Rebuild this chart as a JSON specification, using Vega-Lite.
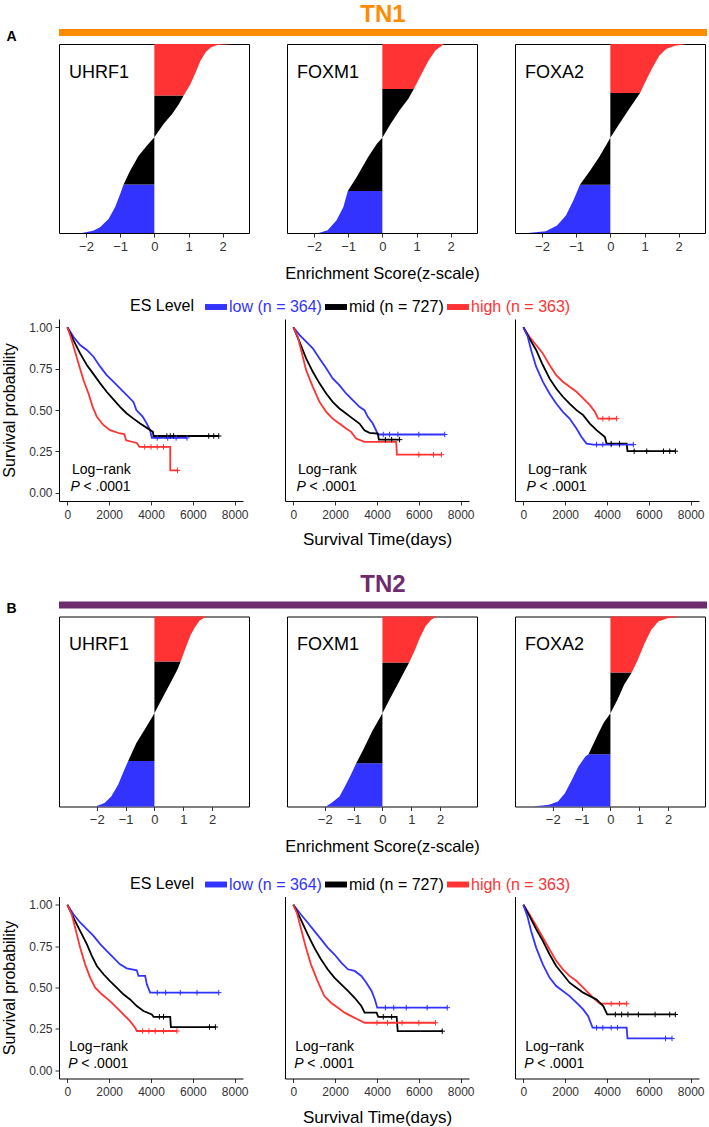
{
"$schema": "https://vega.github.io/schema/vega-lite/v6.json",
"autosize": {"type": "pad"},
"padding": {"top": 3, "left": 1, "right": 0, "bottom": 0},
"background": "white",
"config": {
  "font": "Liberation Sans",
  "view": {"stroke": null},
  "axis": {"grid": false, "domainColor": "#000000", "tickColor": "#333333", "labelColor": "#333333", "labelFont": "Liberation Sans", "labelFontSize": 13, "titleFont": "Liberation Sans", "titleFontWeight": "normal", "titleColor": "#000000", "tickSize": 4, "labelPadding": 3},
  "text": {"font": "Liberation Sans", "color": "#000000"},
  "title": {"font": "Liberation Sans"}
},
"datasets": {
"km": [
{"p":"A1","l":"low","t":0,"s":1},{"p":"A1","l":"low","t":290,"s":0.943},{"p":"A1","l":"low","t":610,"s":0.893},{"p":"A1","l":"low","t":930,"s":0.863},{"p":"A1","l":"low","t":1250,"s":0.822},{"p":"A1","l":"low","t":1570,"s":0.762},{"p":"A1","l":"low","t":1880,"s":0.711},{"p":"A1","l":"low","t":2200,"s":0.671},{"p":"A1","l":"low","t":2520,"s":0.63},{"p":"A1","l":"low","t":2840,"s":0.59},{"p":"A1","l":"low","t":3160,"s":0.549},{"p":"A1","l":"low","t":3300,"s":0.5},{"p":"A1","l":"low","t":3600,"s":0.46},{"p":"A1","l":"low","t":3800,"s":0.418},{"p":"A1","l":"low","t":3950,"s":0.38},{"p":"A1","l":"low","t":4040,"s":0.331},{"p":"A1","l":"low","t":5720,"s":0.331},
{"p":"A1","l":"mid","t":0,"s":1},{"p":"A1","l":"mid","t":290,"s":0.923},{"p":"A1","l":"mid","t":610,"s":0.842},{"p":"A1","l":"mid","t":930,"s":0.772},{"p":"A1","l":"mid","t":1250,"s":0.717},{"p":"A1","l":"mid","t":1570,"s":0.661},{"p":"A1","l":"mid","t":1880,"s":0.61},{"p":"A1","l":"mid","t":2200,"s":0.564},{"p":"A1","l":"mid","t":2520,"s":0.519},{"p":"A1","l":"mid","t":2840,"s":0.479},{"p":"A1","l":"mid","t":3160,"s":0.448},{"p":"A1","l":"mid","t":3480,"s":0.418},{"p":"A1","l":"mid","t":3800,"s":0.392},{"p":"A1","l":"mid","t":4090,"s":0.368},{"p":"A1","l":"mid","t":4120,"s":0.343},{"p":"A1","l":"mid","t":7240,"s":0.343},
{"p":"A1","l":"high","t":0,"s":1},{"p":"A1","l":"high","t":160,"s":0.943},{"p":"A1","l":"high","t":320,"s":0.873},{"p":"A1","l":"high","t":530,"s":0.782},{"p":"A1","l":"high","t":770,"s":0.681},{"p":"A1","l":"high","t":1010,"s":0.6},{"p":"A1","l":"high","t":1210,"s":0.519},{"p":"A1","l":"high","t":1410,"s":0.459},{"p":"A1","l":"high","t":1730,"s":0.408},{"p":"A1","l":"high","t":2040,"s":0.378},{"p":"A1","l":"high","t":2520,"s":0.358},{"p":"A1","l":"high","t":2720,"s":0.354},{"p":"A1","l":"high","t":2810,"s":0.317},{"p":"A1","l":"high","t":3320,"s":0.301},{"p":"A1","l":"high","t":3450,"s":0.277},{"p":"A1","l":"high","t":4920,"s":0.277},{"p":"A1","l":"high","t":4920,"s":0.135},{"p":"A1","l":"high","t":5270,"s":0.135},
{"p":"A2","l":"low","t":0,"s":1},{"p":"A2","l":"low","t":290,"s":0.954},{"p":"A2","l":"low","t":610,"s":0.913},{"p":"A2","l":"low","t":930,"s":0.873},{"p":"A2","l":"low","t":1250,"s":0.812},{"p":"A2","l":"low","t":1570,"s":0.752},{"p":"A2","l":"low","t":1880,"s":0.691},{"p":"A2","l":"low","t":2200,"s":0.65},{"p":"A2","l":"low","t":2520,"s":0.6},{"p":"A2","l":"low","t":2840,"s":0.56},{"p":"A2","l":"low","t":3160,"s":0.519},{"p":"A2","l":"low","t":3400,"s":0.499},{"p":"A2","l":"low","t":3560,"s":0.459},{"p":"A2","l":"low","t":3800,"s":0.418},{"p":"A2","l":"low","t":3990,"s":0.368},{"p":"A2","l":"low","t":4040,"s":0.352},{"p":"A2","l":"low","t":7240,"s":0.352},
{"p":"A2","l":"mid","t":0,"s":1},{"p":"A2","l":"mid","t":290,"s":0.913},{"p":"A2","l":"mid","t":610,"s":0.812},{"p":"A2","l":"mid","t":930,"s":0.731},{"p":"A2","l":"mid","t":1250,"s":0.661},{"p":"A2","l":"mid","t":1570,"s":0.6},{"p":"A2","l":"mid","t":1880,"s":0.549},{"p":"A2","l":"mid","t":2200,"s":0.509},{"p":"A2","l":"mid","t":2520,"s":0.479},{"p":"A2","l":"mid","t":2840,"s":0.448},{"p":"A2","l":"mid","t":3160,"s":0.418},{"p":"A2","l":"mid","t":3400,"s":0.378},{"p":"A2","l":"mid","t":3640,"s":0.362},{"p":"A2","l":"mid","t":4040,"s":0.358},{"p":"A2","l":"mid","t":4090,"s":0.321},{"p":"A2","l":"mid","t":5080,"s":0.321},
{"p":"A2","l":"high","t":0,"s":1},{"p":"A2","l":"high","t":210,"s":0.943},{"p":"A2","l":"high","t":370,"s":0.863},{"p":"A2","l":"high","t":610,"s":0.741},{"p":"A2","l":"high","t":930,"s":0.64},{"p":"A2","l":"high","t":1250,"s":0.549},{"p":"A2","l":"high","t":1570,"s":0.489},{"p":"A2","l":"high","t":1880,"s":0.448},{"p":"A2","l":"high","t":2200,"s":0.418},{"p":"A2","l":"high","t":2520,"s":0.388},{"p":"A2","l":"high","t":2760,"s":0.368},{"p":"A2","l":"high","t":3000,"s":0.327},{"p":"A2","l":"high","t":3400,"s":0.307},{"p":"A2","l":"high","t":4920,"s":0.307},{"p":"A2","l":"high","t":4950,"s":0.23},{"p":"A2","l":"high","t":7080,"s":0.23},
{"p":"A3","l":"high","t":0,"s":1},{"p":"A3","l":"high","t":290,"s":0.943},{"p":"A3","l":"high","t":610,"s":0.893},{"p":"A3","l":"high","t":930,"s":0.842},{"p":"A3","l":"high","t":1250,"s":0.772},{"p":"A3","l":"high","t":1570,"s":0.711},{"p":"A3","l":"high","t":1890,"s":0.671},{"p":"A3","l":"high","t":2210,"s":0.64},{"p":"A3","l":"high","t":2540,"s":0.61},{"p":"A3","l":"high","t":2860,"s":0.57},{"p":"A3","l":"high","t":3180,"s":0.529},{"p":"A3","l":"high","t":3420,"s":0.489},{"p":"A3","l":"high","t":3580,"s":0.448},{"p":"A3","l":"high","t":4460,"s":0.448},
{"p":"A3","l":"mid","t":0,"s":1},{"p":"A3","l":"mid","t":290,"s":0.933},{"p":"A3","l":"mid","t":610,"s":0.863},{"p":"A3","l":"mid","t":930,"s":0.772},{"p":"A3","l":"mid","t":1250,"s":0.691},{"p":"A3","l":"mid","t":1570,"s":0.63},{"p":"A3","l":"mid","t":1890,"s":0.58},{"p":"A3","l":"mid","t":2210,"s":0.539},{"p":"A3","l":"mid","t":2540,"s":0.499},{"p":"A3","l":"mid","t":2860,"s":0.469},{"p":"A3","l":"mid","t":3180,"s":0.418},{"p":"A3","l":"mid","t":3500,"s":0.378},{"p":"A3","l":"mid","t":3900,"s":0.337},{"p":"A3","l":"mid","t":3980,"s":0.297},{"p":"A3","l":"mid","t":4940,"s":0.297},{"p":"A3","l":"mid","t":4980,"s":0.251},{"p":"A3","l":"mid","t":7270,"s":0.251},
{"p":"A3","l":"low","t":0,"s":1},{"p":"A3","l":"low","t":210,"s":0.943},{"p":"A3","l":"low","t":370,"s":0.863},{"p":"A3","l":"low","t":610,"s":0.762},{"p":"A3","l":"low","t":930,"s":0.671},{"p":"A3","l":"low","t":1250,"s":0.6},{"p":"A3","l":"low","t":1570,"s":0.539},{"p":"A3","l":"low","t":1890,"s":0.489},{"p":"A3","l":"low","t":2210,"s":0.448},{"p":"A3","l":"low","t":2540,"s":0.388},{"p":"A3","l":"low","t":2780,"s":0.337},{"p":"A3","l":"low","t":3020,"s":0.297},{"p":"A3","l":"low","t":3340,"s":0.291},{"p":"A3","l":"low","t":5260,"s":0.291},
{"p":"B1","l":"low","t":0,"s":1},{"p":"B1","l":"low","t":290,"s":0.943},{"p":"B1","l":"low","t":610,"s":0.893},{"p":"B1","l":"low","t":930,"s":0.853},{"p":"B1","l":"low","t":1250,"s":0.812},{"p":"B1","l":"low","t":1570,"s":0.762},{"p":"B1","l":"low","t":1880,"s":0.721},{"p":"B1","l":"low","t":2200,"s":0.681},{"p":"B1","l":"low","t":2520,"s":0.64},{"p":"B1","l":"low","t":2840,"s":0.616},{"p":"B1","l":"low","t":3320,"s":0.604},{"p":"B1","l":"low","t":3400,"s":0.57},{"p":"B1","l":"low","t":3720,"s":0.57},{"p":"B1","l":"low","t":3800,"s":0.519},{"p":"B1","l":"low","t":3960,"s":0.469},{"p":"B1","l":"low","t":7240,"s":0.469},
{"p":"B1","l":"mid","t":0,"s":1},{"p":"B1","l":"mid","t":290,"s":0.923},{"p":"B1","l":"mid","t":610,"s":0.842},{"p":"B1","l":"mid","t":930,"s":0.762},{"p":"B1","l":"mid","t":1170,"s":0.691},{"p":"B1","l":"mid","t":1410,"s":0.63},{"p":"B1","l":"mid","t":1730,"s":0.58},{"p":"B1","l":"mid","t":2040,"s":0.539},{"p":"B1","l":"mid","t":2360,"s":0.499},{"p":"B1","l":"mid","t":2680,"s":0.459},{"p":"B1","l":"mid","t":3000,"s":0.428},{"p":"B1","l":"mid","t":3320,"s":0.388},{"p":"B1","l":"mid","t":3640,"s":0.358},{"p":"B1","l":"mid","t":4040,"s":0.337},{"p":"B1","l":"mid","t":4120,"s":0.323},{"p":"B1","l":"mid","t":4920,"s":0.323},{"p":"B1","l":"mid","t":4950,"s":0.261},{"p":"B1","l":"mid","t":7080,"s":0.261},
{"p":"B1","l":"high","t":0,"s":1},{"p":"B1","l":"high","t":210,"s":0.943},{"p":"B1","l":"high","t":370,"s":0.863},{"p":"B1","l":"high","t":610,"s":0.741},{"p":"B1","l":"high","t":850,"s":0.64},{"p":"B1","l":"high","t":1090,"s":0.56},{"p":"B1","l":"high","t":1330,"s":0.499},{"p":"B1","l":"high","t":1650,"s":0.459},{"p":"B1","l":"high","t":2040,"s":0.418},{"p":"B1","l":"high","t":2360,"s":0.378},{"p":"B1","l":"high","t":2680,"s":0.337},{"p":"B1","l":"high","t":3000,"s":0.297},{"p":"B1","l":"high","t":3240,"s":0.257},{"p":"B1","l":"high","t":3320,"s":0.237},{"p":"B1","l":"high","t":5240,"s":0.237},
{"p":"B2","l":"low","t":0,"s":1},{"p":"B2","l":"low","t":350,"s":0.943},{"p":"B2","l":"low","t":680,"s":0.893},{"p":"B2","l":"low","t":1000,"s":0.842},{"p":"B2","l":"low","t":1320,"s":0.792},{"p":"B2","l":"low","t":1640,"s":0.741},{"p":"B2","l":"low","t":1960,"s":0.701},{"p":"B2","l":"low","t":2290,"s":0.65},{"p":"B2","l":"low","t":2610,"s":0.61},{"p":"B2","l":"low","t":2930,"s":0.6},{"p":"B2","l":"low","t":3250,"s":0.57},{"p":"B2","l":"low","t":3490,"s":0.529},{"p":"B2","l":"low","t":3740,"s":0.479},{"p":"B2","l":"low","t":3900,"s":0.428},{"p":"B2","l":"low","t":4010,"s":0.378},{"p":"B2","l":"low","t":7360,"s":0.378},
{"p":"B2","l":"mid","t":0,"s":1},{"p":"B2","l":"mid","t":350,"s":0.913},{"p":"B2","l":"mid","t":680,"s":0.822},{"p":"B2","l":"mid","t":1000,"s":0.741},{"p":"B2","l":"mid","t":1320,"s":0.671},{"p":"B2","l":"mid","t":1640,"s":0.61},{"p":"B2","l":"mid","t":1960,"s":0.56},{"p":"B2","l":"mid","t":2290,"s":0.519},{"p":"B2","l":"mid","t":2610,"s":0.479},{"p":"B2","l":"mid","t":2930,"s":0.438},{"p":"B2","l":"mid","t":3250,"s":0.388},{"p":"B2","l":"mid","t":3410,"s":0.348},{"p":"B2","l":"mid","t":3980,"s":0.348},{"p":"B2","l":"mid","t":4060,"s":0.323},{"p":"B2","l":"mid","t":4940,"s":0.323},{"p":"B2","l":"mid","t":4990,"s":0.236},{"p":"B2","l":"mid","t":7120,"s":0.236},
{"p":"B2","l":"high","t":0,"s":1},{"p":"B2","l":"high","t":190,"s":0.943},{"p":"B2","l":"high","t":350,"s":0.863},{"p":"B2","l":"high","t":600,"s":0.741},{"p":"B2","l":"high","t":840,"s":0.64},{"p":"B2","l":"high","t":1160,"s":0.539},{"p":"B2","l":"high","t":1480,"s":0.448},{"p":"B2","l":"high","t":1800,"s":0.408},{"p":"B2","l":"high","t":2130,"s":0.378},{"p":"B2","l":"high","t":2450,"s":0.348},{"p":"B2","l":"high","t":2770,"s":0.327},{"p":"B2","l":"high","t":3090,"s":0.307},{"p":"B2","l":"high","t":3410,"s":0.287},{"p":"B2","l":"high","t":6800,"s":0.287},
{"p":"B3","l":"high","t":0,"s":1},{"p":"B3","l":"high","t":290,"s":0.943},{"p":"B3","l":"high","t":610,"s":0.873},{"p":"B3","l":"high","t":930,"s":0.802},{"p":"B3","l":"high","t":1250,"s":0.731},{"p":"B3","l":"high","t":1570,"s":0.661},{"p":"B3","l":"high","t":1890,"s":0.61},{"p":"B3","l":"high","t":2210,"s":0.57},{"p":"B3","l":"high","t":2540,"s":0.539},{"p":"B3","l":"high","t":2860,"s":0.499},{"p":"B3","l":"high","t":3180,"s":0.459},{"p":"B3","l":"high","t":3420,"s":0.428},{"p":"B3","l":"high","t":3660,"s":0.402},{"p":"B3","l":"high","t":4940,"s":0.402},
{"p":"B3","l":"mid","t":0,"s":1},{"p":"B3","l":"mid","t":290,"s":0.933},{"p":"B3","l":"mid","t":610,"s":0.853},{"p":"B3","l":"mid","t":930,"s":0.782},{"p":"B3","l":"mid","t":1250,"s":0.701},{"p":"B3","l":"mid","t":1570,"s":0.63},{"p":"B3","l":"mid","t":1890,"s":0.58},{"p":"B3","l":"mid","t":2210,"s":0.529},{"p":"B3","l":"mid","t":2540,"s":0.499},{"p":"B3","l":"mid","t":2860,"s":0.469},{"p":"B3","l":"mid","t":3180,"s":0.448},{"p":"B3","l":"mid","t":3500,"s":0.428},{"p":"B3","l":"mid","t":3820,"s":0.388},{"p":"B3","l":"mid","t":4010,"s":0.337},{"p":"B3","l":"mid","t":7270,"s":0.337},
{"p":"B3","l":"low","t":0,"s":1},{"p":"B3","l":"low","t":210,"s":0.923},{"p":"B3","l":"low","t":370,"s":0.842},{"p":"B3","l":"low","t":610,"s":0.741},{"p":"B3","l":"low","t":930,"s":0.64},{"p":"B3","l":"low","t":1250,"s":0.56},{"p":"B3","l":"low","t":1570,"s":0.509},{"p":"B3","l":"low","t":1890,"s":0.479},{"p":"B3","l":"low","t":2210,"s":0.448},{"p":"B3","l":"low","t":2540,"s":0.408},{"p":"B3","l":"low","t":2860,"s":0.368},{"p":"B3","l":"low","t":3100,"s":0.327},{"p":"B3","l":"low","t":3310,"s":0.257},{"p":"B3","l":"low","t":4940,"s":0.257},{"p":"B3","l":"low","t":4980,"s":0.192},{"p":"B3","l":"low","t":7110,"s":0.192}
],
"cz": [
{"p":"A1","l":"mid","t":4760,"s":0.343},{"p":"A1","l":"mid","t":4920,"s":0.343},{"p":"A1","l":"mid","t":5080,"s":0.343},{"p":"A1","l":"mid","t":6760,"s":0.343},{"p":"A1","l":"mid","t":7000,"s":0.343},{"p":"A1","l":"mid","t":7240,"s":0.343},
{"p":"A1","l":"low","t":4300,"s":0.331},{"p":"A1","l":"low","t":4800,"s":0.331},{"p":"A1","l":"low","t":5200,"s":0.331},{"p":"A1","l":"low","t":5720,"s":0.331},
{"p":"A1","l":"high","t":3700,"s":0.277},{"p":"A1","l":"high","t":4000,"s":0.277},{"p":"A1","l":"high","t":4300,"s":0.277},{"p":"A1","l":"high","t":4600,"s":0.277},{"p":"A1","l":"high","t":5270,"s":0.135},
{"p":"A2","l":"low","t":4300,"s":0.352},{"p":"A2","l":"low","t":4600,"s":0.352},{"p":"A2","l":"low","t":5000,"s":0.352},{"p":"A2","l":"low","t":6000,"s":0.352},{"p":"A2","l":"low","t":7240,"s":0.352},
{"p":"A2","l":"mid","t":4400,"s":0.321},{"p":"A2","l":"mid","t":4700,"s":0.321},{"p":"A2","l":"mid","t":5080,"s":0.321},
{"p":"A2","l":"high","t":6000,"s":0.23},{"p":"A2","l":"high","t":6700,"s":0.23},{"p":"A2","l":"high","t":7080,"s":0.23},
{"p":"A3","l":"high","t":3800,"s":0.448},{"p":"A3","l":"high","t":4100,"s":0.448},{"p":"A3","l":"high","t":4460,"s":0.448},
{"p":"A3","l":"low","t":3500,"s":0.291},{"p":"A3","l":"low","t":3800,"s":0.291},{"p":"A3","l":"low","t":4200,"s":0.291},{"p":"A3","l":"low","t":4600,"s":0.291},{"p":"A3","l":"low","t":5260,"s":0.291},
{"p":"A3","l":"mid","t":4200,"s":0.297},{"p":"A3","l":"mid","t":4600,"s":0.297},{"p":"A3","l":"mid","t":5300,"s":0.251},{"p":"A3","l":"mid","t":5900,"s":0.251},{"p":"A3","l":"mid","t":6700,"s":0.251},{"p":"A3","l":"mid","t":7000,"s":0.251},{"p":"A3","l":"mid","t":7270,"s":0.251},
{"p":"B1","l":"low","t":4300,"s":0.469},{"p":"B1","l":"low","t":4700,"s":0.469},{"p":"B1","l":"low","t":5400,"s":0.469},{"p":"B1","l":"low","t":6200,"s":0.469},{"p":"B1","l":"low","t":7240,"s":0.469},
{"p":"B1","l":"mid","t":4400,"s":0.323},{"p":"B1","l":"mid","t":4600,"s":0.323},{"p":"B1","l":"mid","t":6800,"s":0.261},{"p":"B1","l":"mid","t":7080,"s":0.261},
{"p":"B1","l":"high","t":3600,"s":0.237},{"p":"B1","l":"high","t":3900,"s":0.237},{"p":"B1","l":"high","t":4200,"s":0.237},{"p":"B1","l":"high","t":4600,"s":0.237},{"p":"B1","l":"high","t":5240,"s":0.237},
{"p":"B2","l":"low","t":4400,"s":0.378},{"p":"B2","l":"low","t":4800,"s":0.378},{"p":"B2","l":"low","t":5400,"s":0.378},{"p":"B2","l":"low","t":6400,"s":0.378},{"p":"B2","l":"low","t":7360,"s":0.378},
{"p":"B2","l":"mid","t":4300,"s":0.323},{"p":"B2","l":"mid","t":4700,"s":0.323},{"p":"B2","l":"mid","t":7120,"s":0.236},
{"p":"B2","l":"high","t":4000,"s":0.287},{"p":"B2","l":"high","t":4500,"s":0.287},{"p":"B2","l":"high","t":5200,"s":0.287},{"p":"B2","l":"high","t":6000,"s":0.287},{"p":"B2","l":"high","t":6800,"s":0.287},
{"p":"B3","l":"high","t":4200,"s":0.402},{"p":"B3","l":"high","t":4600,"s":0.402},{"p":"B3","l":"high","t":4940,"s":0.402},
{"p":"B3","l":"mid","t":4400,"s":0.337},{"p":"B3","l":"mid","t":4700,"s":0.337},{"p":"B3","l":"mid","t":5000,"s":0.337},{"p":"B3","l":"mid","t":5500,"s":0.337},{"p":"B3","l":"mid","t":6300,"s":0.337},{"p":"B3","l":"mid","t":7000,"s":0.337},{"p":"B3","l":"mid","t":7270,"s":0.337},
{"p":"B3","l":"low","t":3500,"s":0.257},{"p":"B3","l":"low","t":3800,"s":0.257},{"p":"B3","l":"low","t":4200,"s":0.257},{"p":"B3","l":"low","t":4500,"s":0.257},{"p":"B3","l":"low","t":6800,"s":0.192},{"p":"B3","l":"low","t":7110,"s":0.192}
],
"es": [
{"p":"A1","l":"low","f":0,"z":-2.12},{"p":"A1","l":"low","f":0.012,"z":-1.79},{"p":"A1","l":"low","f":0.03,"z":-1.59},{"p":"A1","l":"low","f":0.074,"z":-1.34},{"p":"A1","l":"low","f":0.136,"z":-1.15},{"p":"A1","l":"low","f":0.206,"z":-1.0},{"p":"A1","l":"low","f":0.256,"z":-0.9},
{"p":"A1","l":"mid","f":0.256,"z":-0.9},{"p":"A1","l":"mid","f":0.33,"z":-0.71},{"p":"A1","l":"mid","f":0.409,"z":-0.46},{"p":"A1","l":"mid","f":0.462,"z":-0.22},{"p":"A1","l":"mid","f":0.506,"z":0},{"p":"A1","l":"mid","f":0.577,"z":0.27},{"p":"A1","l":"mid","f":0.63,"z":0.52},{"p":"A1","l":"mid","f":0.683,"z":0.72},{"p":"A1","l":"mid","f":0.727,"z":0.86},
{"p":"A1","l":"high","f":0.727,"z":0.86},{"p":"A1","l":"high","f":0.788,"z":1.06},{"p":"A1","l":"high","f":0.85,"z":1.21},{"p":"A1","l":"high","f":0.912,"z":1.35},{"p":"A1","l":"high","f":0.956,"z":1.5},{"p":"A1","l":"high","f":0.982,"z":1.65},{"p":"A1","l":"high","f":0.995,"z":1.84},{"p":"A1","l":"high","f":1,"z":2.28},
{"p":"A2","l":"low","f":0,"z":-1.86},{"p":"A2","l":"low","f":0.014,"z":-1.6},{"p":"A2","l":"low","f":0.067,"z":-1.34},{"p":"A2","l":"low","f":0.137,"z":-1.14},{"p":"A2","l":"low","f":0.222,"z":-1.01},
{"p":"A2","l":"mid","f":0.222,"z":-1.01},{"p":"A2","l":"mid","f":0.296,"z":-0.75},{"p":"A2","l":"mid","f":0.401,"z":-0.42},{"p":"A2","l":"mid","f":0.472,"z":-0.16},{"p":"A2","l":"mid","f":0.504,"z":0},{"p":"A2","l":"mid","f":0.577,"z":0.24},{"p":"A2","l":"mid","f":0.648,"z":0.5},{"p":"A2","l":"mid","f":0.71,"z":0.76},{"p":"A2","l":"mid","f":0.762,"z":0.92},
{"p":"A2","l":"high","f":0.762,"z":0.92},{"p":"A2","l":"high","f":0.842,"z":1.15},{"p":"A2","l":"high","f":0.912,"z":1.35},{"p":"A2","l":"high","f":0.965,"z":1.55},{"p":"A2","l":"high","f":0.991,"z":1.74},{"p":"A2","l":"high","f":1,"z":1.81},
{"p":"A3","l":"low","f":0,"z":-2.41},{"p":"A3","l":"low","f":0.009,"z":-1.89},{"p":"A3","l":"low","f":0.04,"z":-1.56},{"p":"A3","l":"low","f":0.093,"z":-1.3},{"p":"A3","l":"low","f":0.173,"z":-1.08},{"p":"A3","l":"low","f":0.255,"z":-0.89},
{"p":"A3","l":"mid","f":0.255,"z":-0.89},{"p":"A3","l":"mid","f":0.331,"z":-0.59},{"p":"A3","l":"mid","f":0.401,"z":-0.33},{"p":"A3","l":"mid","f":0.481,"z":-0.07},{"p":"A3","l":"mid","f":0.504,"z":0},{"p":"A3","l":"mid","f":0.577,"z":0.26},{"p":"A3","l":"mid","f":0.648,"z":0.52},{"p":"A3","l":"mid","f":0.701,"z":0.72},{"p":"A3","l":"mid","f":0.741,"z":0.87},
{"p":"A3","l":"high","f":0.741,"z":0.87},{"p":"A3","l":"high","f":0.806,"z":1.04},{"p":"A3","l":"high","f":0.877,"z":1.24},{"p":"A3","l":"high","f":0.938,"z":1.43},{"p":"A3","l":"high","f":0.974,"z":1.63},{"p":"A3","l":"high","f":0.991,"z":1.89},{"p":"A3","l":"high","f":0.998,"z":2.15},{"p":"A3","l":"high","f":1,"z":2.21},
{"p":"B1","l":"low","f":0,"z":-2.05},{"p":"B1","l":"low","f":0.018,"z":-1.73},{"p":"B1","l":"low","f":0.053,"z":-1.5},{"p":"B1","l":"low","f":0.114,"z":-1.26},{"p":"B1","l":"low","f":0.184,"z":-1.07},{"p":"B1","l":"low","f":0.24,"z":-0.91},
{"p":"B1","l":"mid","f":0.24,"z":-0.91},{"p":"B1","l":"mid","f":0.333,"z":-0.63},{"p":"B1","l":"mid","f":0.412,"z":-0.31},{"p":"B1","l":"mid","f":0.491,"z":0},{"p":"B1","l":"mid","f":0.561,"z":0.24},{"p":"B1","l":"mid","f":0.649,"z":0.55},{"p":"B1","l":"mid","f":0.719,"z":0.79},{"p":"B1","l":"mid","f":0.763,"z":0.91},
{"p":"B1","l":"high","f":0.763,"z":0.91},{"p":"B1","l":"high","f":0.842,"z":1.1},{"p":"B1","l":"high","f":0.904,"z":1.26},{"p":"B1","l":"high","f":0.947,"z":1.42},{"p":"B1","l":"high","f":0.979,"z":1.57},{"p":"B1","l":"high","f":0.996,"z":1.76},{"p":"B1","l":"high","f":1,"z":1.81},
{"p":"B2","l":"low","f":0,"z":-1.96},{"p":"B2","l":"low","f":0.018,"z":-1.77},{"p":"B2","l":"low","f":0.053,"z":-1.49},{"p":"B2","l":"low","f":0.114,"z":-1.27},{"p":"B2","l":"low","f":0.175,"z":-1.07},{"p":"B2","l":"low","f":0.228,"z":-0.91},
{"p":"B2","l":"mid","f":0.228,"z":-0.91},{"p":"B2","l":"mid","f":0.298,"z":-0.67},{"p":"B2","l":"mid","f":0.395,"z":-0.36},{"p":"B2","l":"mid","f":0.491,"z":0},{"p":"B2","l":"mid","f":0.57,"z":0.27},{"p":"B2","l":"mid","f":0.658,"z":0.58},{"p":"B2","l":"mid","f":0.728,"z":0.82},{"p":"B2","l":"mid","f":0.758,"z":0.93},
{"p":"B2","l":"high","f":0.758,"z":0.93},{"p":"B2","l":"high","f":0.825,"z":1.13},{"p":"B2","l":"high","f":0.886,"z":1.29},{"p":"B2","l":"high","f":0.947,"z":1.49},{"p":"B2","l":"high","f":0.982,"z":1.68},{"p":"B2","l":"high","f":0.996,"z":1.84},{"p":"B2","l":"high","f":1,"z":1.87},
{"p":"B3","l":"low","f":0,"z":-2.69},{"p":"B3","l":"low","f":0.009,"z":-2.13},{"p":"B3","l":"low","f":0.026,"z":-1.82},{"p":"B3","l":"low","f":0.07,"z":-1.58},{"p":"B3","l":"low","f":0.14,"z":-1.34},{"p":"B3","l":"low","f":0.21,"z":-1.11},{"p":"B3","l":"low","f":0.263,"z":-0.87},{"p":"B3","l":"low","f":0.275,"z":-0.76},
{"p":"B3","l":"mid","f":0.275,"z":-0.76},{"p":"B3","l":"mid","f":0.368,"z":-0.47},{"p":"B3","l":"mid","f":0.439,"z":-0.24},{"p":"B3","l":"mid","f":0.491,"z":0},{"p":"B3","l":"mid","f":0.561,"z":0.24},{"p":"B3","l":"mid","f":0.64,"z":0.47},{"p":"B3","l":"mid","f":0.705,"z":0.74},
{"p":"B3","l":"high","f":0.705,"z":0.74},{"p":"B3","l":"high","f":0.772,"z":0.95},{"p":"B3","l":"high","f":0.86,"z":1.19},{"p":"B3","l":"high","f":0.93,"z":1.42},{"p":"B3","l":"high","f":0.974,"z":1.66},{"p":"B3","l":"high","f":0.991,"z":1.98},{"p":"B3","l":"high","f":0.996,"z":2.32},{"p":"B3","l":"high","f":1,"z":2.37}
]
},
"spacing": 25.5,
"resolve": {"scale": {"color": "independent", "stroke": "independent"}},
"vconcat": [
{
 "spacing": 14,
 "resolve": {"scale": {"color": "independent", "stroke": "independent"}},
 "vconcat": [
  {
   "spacing": 0,
   "resolve": {"scale": {"color": "independent"}},
   "vconcat": [
    {
     "width": 648, "height": 14,
     "title": {"text": "TN1", "color": "#FF8C00", "fontSize": 24, "fontWeight": "bold", "anchor": "middle", "offset": 2},
     "data": {"values": [{"sec": "A"}]},
     "mark": {"type": "rect", "color": "#FF8C00"},
     "encoding": {
      "y": {"datum": 14, "type": "quantitative", "scale": {"domain": [0, 14], "nice": false, "zero": false}, "axis": {"title": null, "values": [7], "labelExpr": "'A'", "domain": false, "ticks": false, "labelFontSize": 14, "labelFontWeight": "bold", "labelColor": "#000000", "labelPadding": 43}},
      "y2": {"datum": 7},
      "x": {"datum": 0, "type": "quantitative", "scale": {"domain": [0, 1]}, "axis": null},
      "x2": {"datum": 1}
     }
    },
    {
     "spacing": 34,
     "hconcat": [
      {"width": 190, "height": 189, "view": {"stroke": "#000000", "strokeWidth": 1},
       "layer": [
        {"data": {"name": "es"}, "transform": [{"filter": "datum.p == 'A1'"}],
         "mark": {"type": "area", "orient": "horizontal"},
         "encoding": {
          "y": {"field": "f", "type": "quantitative", "scale": {"domain": [0, 1], "nice": false, "zero": false}, "axis": null},
          "x": {"field": "z", "type": "quantitative", "scale": {"domain": [-2.79, 2.77], "nice": false, "zero": false}, "axis": {"values": [-2, -1, 0, 1, 2], "domain": false, "title": null}},
          "x2": {"datum": 0},
          "color": {"field": "l", "type": "nominal", "scale": {"domain": ["low", "mid", "high"], "range": ["#3333FF", "#000000", "#FF3333"]}, "legend": null}
         }},
        {"data": {"values": [{"g": "UHRF1"}]}, "mark": {"type": "text", "align": "left", "baseline": "middle", "fontSize": 18},
         "encoding": {"x": {"datum": -2.5}, "y": {"datum": 0.846}, "text": {"field": "g"}}}
       ]},
      {"width": 190, "height": 189, "view": {"stroke": "#000000", "strokeWidth": 1},
       "layer": [
        {"data": {"name": "es"}, "transform": [{"filter": "datum.p == 'A2'"}],
         "mark": {"type": "area", "orient": "horizontal"},
         "encoding": {
          "y": {"field": "f", "type": "quantitative", "scale": {"domain": [0, 1], "nice": false, "zero": false}, "axis": null},
          "x": {"field": "z", "type": "quantitative", "scale": {"domain": [-2.79, 2.77], "nice": false, "zero": false}, "axis": {"values": [-2, -1, 0, 1, 2], "domain": false, "title": "Enrichment Score(z-scale)", "titleFontSize": 16.5, "titlePadding": 12}},
          "x2": {"datum": 0},
          "color": {"field": "l", "type": "nominal", "scale": {"domain": ["low", "mid", "high"], "range": ["#3333FF", "#000000", "#FF3333"]}, "legend": null}
         }},
        {"data": {"values": [{"g": "FOXM1"}]}, "mark": {"type": "text", "align": "left", "baseline": "middle", "fontSize": 18},
         "encoding": {"x": {"datum": -2.5}, "y": {"datum": 0.846}, "text": {"field": "g"}}}
       ]},
      {"width": 190, "height": 189, "view": {"stroke": "#000000", "strokeWidth": 1},
       "layer": [
        {"data": {"name": "es"}, "transform": [{"filter": "datum.p == 'A3'"}],
         "mark": {"type": "area", "orient": "horizontal"},
         "encoding": {
          "y": {"field": "f", "type": "quantitative", "scale": {"domain": [0, 1], "nice": false, "zero": false}, "axis": null},
          "x": {"field": "z", "type": "quantitative", "scale": {"domain": [-2.79, 2.77], "nice": false, "zero": false}, "axis": {"values": [-2, -1, 0, 1, 2], "domain": false, "title": null}},
          "x2": {"datum": 0},
          "color": {"field": "l", "type": "nominal", "scale": {"domain": ["low", "mid", "high"], "range": ["#3333FF", "#000000", "#FF3333"]}, "legend": null}
         }},
        {"data": {"values": [{"g": "FOXA2"}]}, "mark": {"type": "text", "align": "left", "baseline": "middle", "fontSize": 18},
         "encoding": {"x": {"datum": -2.5}, "y": {"datum": 0.846}, "text": {"field": "g"}}}
       ]}
     ]
    }
   ]
  },
  {
   "spacing": 37,
   "hconcat": [
    {"width": 184, "height": 182,
     "layer": [
      {"data": {"name": "km"}, "transform": [{"filter": "datum.p == 'A1'"}],
       "mark": {"type": "line", "strokeWidth": 1.8},
       "encoding": {
        "x": {"field": "t", "type": "quantitative", "scale": {"domain": [-400, 8400], "nice": false, "zero": false}, "axis": {"values": [0, 2000, 4000, 6000, 8000], "format": "d", "labelFontSize": 12, "labelPadding": 4, "title": null}},
        "y": {"field": "s", "type": "quantitative", "scale": {"domain": [-0.05, 1.05], "nice": false, "zero": false}, "axis": {"values": [0, 0.25, 0.5, 0.75, 1], "format": ".2f", "labelFontSize": 12, "title": "Survival probability", "titleFontSize": 16, "titlePadding": 11}},
        "color": {"field": "l", "type": "nominal", "scale": {"domain": ["low", "mid", "high"], "range": ["#3333FF", "#000000", "#FF3333"]},
         "legend": {"orient": "none", "legendX": 71, "legendY": -23, "direction": "horizontal", "padding": 0, "title": "ES Level", "titleOrient": "left", "titleFontSize": 16, "titleFontWeight": "normal", "titleColor": "#000000", "titlePadding": 10, "titleBaseline": "middle", "labelFontSize": 16, "labelOffset": 2, "columnPadding": 3, "symbolType": "M-1,-0.27H1V0.27H-1Z", "symbolSize": 484, "symbolStrokeWidth": 0,
          "labelExpr": "datum.value == 'low' ? 'low (n = 364)' : datum.value == 'mid' ? 'mid (n = 727)' : 'high (n = 363)'",
          "encode": {"labels": {"update": {"fill": {"signal": "datum.value == 'low' ? '#3333FF' : datum.value == 'mid' ? '#000000' : '#FF3333'"}}},
                     "symbols": {"update": {"fill": {"signal": "datum.value == 'low' ? '#3333FF' : datum.value == 'mid' ? '#000000' : '#FF3333'"}, "strokeWidth": {"value": 0}}}}}},
        "order": [{"field": "t"}, {"field": "s", "sort": "descending"}]
       }},
      {"data": {"name": "cz"}, "transform": [{"filter": "datum.p == 'A1'"}],
       "mark": {"type": "point", "shape": "M0,-1V1M-1,0H1", "filled": false, "size": 30, "strokeWidth": 1, "opacity": 1},
       "encoding": {"x": {"field": "t", "type": "quantitative"}, "y": {"field": "s", "type": "quantitative"},
        "stroke": {"field": "l", "type": "nominal", "scale": {"domain": ["low", "mid", "high"], "range": ["#3333FF", "#000000", "#FF3333"]}, "legend": null}}},
      {"data": {"values": [{"a": "Log−rank"}]}, "mark": {"type": "text", "align": "left", "baseline": "middle", "fontSize": 14},
       "encoding": {"x": {"datum": 220}, "y": {"datum": 0.135}, "text": {"field": "a"}}},
      {"data": {"values": [{"a": "P"}]}, "mark": {"type": "text", "align": "left", "baseline": "middle", "fontSize": 14, "fontStyle": "italic"},
       "encoding": {"x": {"datum": 150}, "y": {"datum": 0.036}, "text": {"field": "a"}}},
      {"data": {"values": [{"a": "< .0001"}]}, "mark": {"type": "text", "align": "left", "baseline": "middle", "fontSize": 14},
       "encoding": {"x": {"datum": 770}, "y": {"datum": 0.036}, "text": {"field": "a"}}}
     ]},
    {
     "spacing": 41,
     "hconcat": [
      {"width": 184, "height": 182,
       "layer": [
        {"data": {"name": "km"}, "transform": [{"filter": "datum.p == 'A2'"}],
         "mark": {"type": "line", "strokeWidth": 1.8},
         "encoding": {
          "x": {"field": "t", "type": "quantitative", "scale": {"domain": [-400, 8400], "nice": false, "zero": false}, "axis": {"values": [0, 2000, 4000, 6000, 8000], "format": "d", "labelFontSize": 12, "labelPadding": 4, "title": "Survival Time(days)", "titleFontSize": 17, "titlePadding": 11}},
          "y": {"field": "s", "type": "quantitative", "scale": {"domain": [-0.05, 1.05], "nice": false, "zero": false}, "axis": {"labels": false, "ticks": false, "title": null}},
          "color": {"field": "l", "type": "nominal", "scale": {"domain": ["low", "mid", "high"], "range": ["#3333FF", "#000000", "#FF3333"]}},
          "order": [{"field": "t"}, {"field": "s", "sort": "descending"}]
         }},
        {"data": {"name": "cz"}, "transform": [{"filter": "datum.p == 'A2'"}],
         "mark": {"type": "point", "shape": "M0,-1V1M-1,0H1", "filled": false, "size": 30, "strokeWidth": 1, "opacity": 1},
         "encoding": {"x": {"field": "t", "type": "quantitative"}, "y": {"field": "s", "type": "quantitative"},
          "stroke": {"field": "l", "type": "nominal", "scale": {"domain": ["low", "mid", "high"], "range": ["#3333FF", "#000000", "#FF3333"]}, "legend": null}}},
        {"data": {"values": [{"a": "Log−rank"}]}, "mark": {"type": "text", "align": "left", "baseline": "middle", "fontSize": 14},
         "encoding": {"x": {"datum": 220}, "y": {"datum": 0.135}, "text": {"field": "a"}}},
        {"data": {"values": [{"a": "P"}]}, "mark": {"type": "text", "align": "left", "baseline": "middle", "fontSize": 14, "fontStyle": "italic"},
         "encoding": {"x": {"datum": 150}, "y": {"datum": 0.036}, "text": {"field": "a"}}},
        {"data": {"values": [{"a": "< .0001"}]}, "mark": {"type": "text", "align": "left", "baseline": "middle", "fontSize": 14},
         "encoding": {"x": {"datum": 770}, "y": {"datum": 0.036}, "text": {"field": "a"}}}
       ]},
      {"width": 184, "height": 182,
       "layer": [
        {"data": {"name": "km"}, "transform": [{"filter": "datum.p == 'A3'"}],
         "mark": {"type": "line", "strokeWidth": 1.8},
         "encoding": {
          "x": {"field": "t", "type": "quantitative", "scale": {"domain": [-400, 8400], "nice": false, "zero": false}, "axis": {"values": [0, 2000, 4000, 6000, 8000], "format": "d", "labelFontSize": 12, "labelPadding": 4, "title": null}},
          "y": {"field": "s", "type": "quantitative", "scale": {"domain": [-0.05, 1.05], "nice": false, "zero": false}, "axis": {"labels": false, "ticks": false, "title": null}},
          "color": {"field": "l", "type": "nominal", "scale": {"domain": ["low", "mid", "high"], "range": ["#3333FF", "#000000", "#FF3333"]}},
          "order": [{"field": "t"}, {"field": "s", "sort": "descending"}]
         }},
        {"data": {"name": "cz"}, "transform": [{"filter": "datum.p == 'A3'"}],
         "mark": {"type": "point", "shape": "M0,-1V1M-1,0H1", "filled": false, "size": 30, "strokeWidth": 1, "opacity": 1},
         "encoding": {"x": {"field": "t", "type": "quantitative"}, "y": {"field": "s", "type": "quantitative"},
          "stroke": {"field": "l", "type": "nominal", "scale": {"domain": ["low", "mid", "high"], "range": ["#3333FF", "#000000", "#FF3333"]}, "legend": null}}},
        {"data": {"values": [{"a": "Log−rank"}]}, "mark": {"type": "text", "align": "left", "baseline": "middle", "fontSize": 14},
         "encoding": {"x": {"datum": 220}, "y": {"datum": 0.135}, "text": {"field": "a"}}},
        {"data": {"values": [{"a": "P"}]}, "mark": {"type": "text", "align": "left", "baseline": "middle", "fontSize": 14, "fontStyle": "italic"},
         "encoding": {"x": {"datum": 150}, "y": {"datum": 0.036}, "text": {"field": "a"}}},
        {"data": {"values": [{"a": "< .0001"}]}, "mark": {"type": "text", "align": "left", "baseline": "middle", "fontSize": 14},
         "encoding": {"x": {"datum": 770}, "y": {"datum": 0.036}, "text": {"field": "a"}}}
       ]}
     ]
    }
   ]
  }
 ]
},
{
 "spacing": 18,
 "resolve": {"scale": {"color": "independent", "stroke": "independent"}},
 "vconcat": [
  {
   "spacing": 0,
   "resolve": {"scale": {"color": "independent"}},
   "vconcat": [
    {
     "width": 648, "height": 13,
     "title": {"text": "TN2", "color": "#6E2C6E", "fontSize": 24, "fontWeight": "bold", "anchor": "middle", "offset": 4.5},
     "data": {"values": [{"sec": "B"}]},
     "mark": {"type": "rect", "color": "#6E2C6E"},
     "encoding": {
      "y": {"datum": 13, "type": "quantitative", "scale": {"domain": [0, 13], "nice": false, "zero": false}, "axis": {"title": null, "values": [6], "labelExpr": "'B'", "domain": false, "ticks": false, "labelFontSize": 14, "labelFontWeight": "bold", "labelColor": "#000000", "labelPadding": 43}},
      "y2": {"datum": 6},
      "x": {"datum": 0, "type": "quantitative", "scale": {"domain": [0, 1]}, "axis": null},
      "x2": {"datum": 1}
     }
    },
    {
     "spacing": 34,
     "hconcat": [
      {"width": 190, "height": 190, "view": {"stroke": "#000000", "strokeWidth": 1},
       "layer": [
        {"data": {"name": "es"}, "transform": [{"filter": "datum.p == 'B1'"}],
         "mark": {"type": "area", "orient": "horizontal"},
         "encoding": {
          "y": {"field": "f", "type": "quantitative", "scale": {"domain": [0, 1], "nice": false, "zero": false}, "axis": null},
          "x": {"field": "z", "type": "quantitative", "scale": {"domain": [-3.31, 3.28], "nice": false, "zero": false}, "axis": {"values": [-2, -1, 0, 1, 2], "domain": false, "title": null}},
          "x2": {"datum": 0},
          "color": {"field": "l", "type": "nominal", "scale": {"domain": ["low", "mid", "high"], "range": ["#3333FF", "#000000", "#FF3333"]}, "legend": null}
         }},
        {"data": {"values": [{"g": "UHRF1"}]}, "mark": {"type": "text", "align": "left", "baseline": "middle", "fontSize": 18},
         "encoding": {"x": {"datum": -2.96}, "y": {"datum": 0.848}, "text": {"field": "g"}}}
       ]},
      {"width": 190, "height": 190, "view": {"stroke": "#000000", "strokeWidth": 1},
       "layer": [
        {"data": {"name": "es"}, "transform": [{"filter": "datum.p == 'B2'"}],
         "mark": {"type": "area", "orient": "horizontal"},
         "encoding": {
          "y": {"field": "f", "type": "quantitative", "scale": {"domain": [0, 1], "nice": false, "zero": false}, "axis": null},
          "x": {"field": "z", "type": "quantitative", "scale": {"domain": [-3.31, 3.28], "nice": false, "zero": false}, "axis": {"values": [-2, -1, 0, 1, 2], "domain": false, "title": "Enrichment Score(z-scale)", "titleFontSize": 16.5, "titlePadding": 12}},
          "x2": {"datum": 0},
          "color": {"field": "l", "type": "nominal", "scale": {"domain": ["low", "mid", "high"], "range": ["#3333FF", "#000000", "#FF3333"]}, "legend": null}
         }},
        {"data": {"values": [{"g": "FOXM1"}]}, "mark": {"type": "text", "align": "left", "baseline": "middle", "fontSize": 18},
         "encoding": {"x": {"datum": -2.96}, "y": {"datum": 0.848}, "text": {"field": "g"}}}
       ]},
      {"width": 190, "height": 190, "view": {"stroke": "#000000", "strokeWidth": 1},
       "layer": [
        {"data": {"name": "es"}, "transform": [{"filter": "datum.p == 'B3'"}],
         "mark": {"type": "area", "orient": "horizontal"},
         "encoding": {
          "y": {"field": "f", "type": "quantitative", "scale": {"domain": [0, 1], "nice": false, "zero": false}, "axis": null},
          "x": {"field": "z", "type": "quantitative", "scale": {"domain": [-3.31, 3.28], "nice": false, "zero": false}, "axis": {"values": [-2, -1, 0, 1, 2], "domain": false, "title": null}},
          "x2": {"datum": 0},
          "color": {"field": "l", "type": "nominal", "scale": {"domain": ["low", "mid", "high"], "range": ["#3333FF", "#000000", "#FF3333"]}, "legend": null}
         }},
        {"data": {"values": [{"g": "FOXA2"}]}, "mark": {"type": "text", "align": "left", "baseline": "middle", "fontSize": 18},
         "encoding": {"x": {"datum": -2.96}, "y": {"datum": 0.848}, "text": {"field": "g"}}}
       ]}
     ]
    }
   ]
  },
  {
   "spacing": 37,
   "hconcat": [
    {"width": 184, "height": 182,
     "layer": [
      {"data": {"name": "km"}, "transform": [{"filter": "datum.p == 'B1'"}],
       "mark": {"type": "line", "strokeWidth": 1.8},
       "encoding": {
        "x": {"field": "t", "type": "quantitative", "scale": {"domain": [-400, 8400], "nice": false, "zero": false}, "axis": {"values": [0, 2000, 4000, 6000, 8000], "format": "d", "labelFontSize": 12, "labelPadding": 4, "title": null}},
        "y": {"field": "s", "type": "quantitative", "scale": {"domain": [-0.05, 1.05], "nice": false, "zero": false}, "axis": {"values": [0, 0.25, 0.5, 0.75, 1], "format": ".2f", "labelFontSize": 12, "title": "Survival probability", "titleFontSize": 16, "titlePadding": 11}},
        "color": {"field": "l", "type": "nominal", "scale": {"domain": ["low", "mid", "high"], "range": ["#3333FF", "#000000", "#FF3333"]},
         "legend": {"orient": "none", "legendX": 71, "legendY": -23, "direction": "horizontal", "padding": 0, "title": "ES Level", "titleOrient": "left", "titleFontSize": 16, "titleFontWeight": "normal", "titleColor": "#000000", "titlePadding": 10, "titleBaseline": "middle", "labelFontSize": 16, "labelOffset": 2, "columnPadding": 3, "symbolType": "M-1,-0.27H1V0.27H-1Z", "symbolSize": 484, "symbolStrokeWidth": 0,
          "labelExpr": "datum.value == 'low' ? 'low (n = 364)' : datum.value == 'mid' ? 'mid (n = 727)' : 'high (n = 363)'",
          "encode": {"labels": {"update": {"fill": {"signal": "datum.value == 'low' ? '#3333FF' : datum.value == 'mid' ? '#000000' : '#FF3333'"}}},
                     "symbols": {"update": {"fill": {"signal": "datum.value == 'low' ? '#3333FF' : datum.value == 'mid' ? '#000000' : '#FF3333'"}, "strokeWidth": {"value": 0}}}}}},
        "order": [{"field": "t"}, {"field": "s", "sort": "descending"}]
       }},
      {"data": {"name": "cz"}, "transform": [{"filter": "datum.p == 'B1'"}],
       "mark": {"type": "point", "shape": "M0,-1V1M-1,0H1", "filled": false, "size": 30, "strokeWidth": 1, "opacity": 1},
       "encoding": {"x": {"field": "t", "type": "quantitative"}, "y": {"field": "s", "type": "quantitative"},
        "stroke": {"field": "l", "type": "nominal", "scale": {"domain": ["low", "mid", "high"], "range": ["#3333FF", "#000000", "#FF3333"]}, "legend": null}}},
      {"data": {"values": [{"a": "Log−rank"}]}, "mark": {"type": "text", "align": "left", "baseline": "middle", "fontSize": 14},
       "encoding": {"x": {"datum": 90}, "y": {"datum": 0.139}, "text": {"field": "a"}}},
      {"data": {"values": [{"a": "P"}]}, "mark": {"type": "text", "align": "left", "baseline": "middle", "fontSize": 14, "fontStyle": "italic"},
       "encoding": {"x": {"datum": 40}, "y": {"datum": 0.038}, "text": {"field": "a"}}},
      {"data": {"values": [{"a": "< .0001"}]}, "mark": {"type": "text", "align": "left", "baseline": "middle", "fontSize": 14},
       "encoding": {"x": {"datum": 660}, "y": {"datum": 0.038}, "text": {"field": "a"}}}
     ]},
    {
     "spacing": 41,
     "hconcat": [
      {"width": 184, "height": 182,
       "layer": [
        {"data": {"name": "km"}, "transform": [{"filter": "datum.p == 'B2'"}],
         "mark": {"type": "line", "strokeWidth": 1.8},
         "encoding": {
          "x": {"field": "t", "type": "quantitative", "scale": {"domain": [-400, 8400], "nice": false, "zero": false}, "axis": {"values": [0, 2000, 4000, 6000, 8000], "format": "d", "labelFontSize": 12, "labelPadding": 4, "title": "Survival Time(days)", "titleFontSize": 17, "titlePadding": 12}},
          "y": {"field": "s", "type": "quantitative", "scale": {"domain": [-0.05, 1.05], "nice": false, "zero": false}, "axis": {"labels": false, "ticks": false, "title": null}},
          "color": {"field": "l", "type": "nominal", "scale": {"domain": ["low", "mid", "high"], "range": ["#3333FF", "#000000", "#FF3333"]}},
          "order": [{"field": "t"}, {"field": "s", "sort": "descending"}]
         }},
        {"data": {"name": "cz"}, "transform": [{"filter": "datum.p == 'B2'"}],
         "mark": {"type": "point", "shape": "M0,-1V1M-1,0H1", "filled": false, "size": 30, "strokeWidth": 1, "opacity": 1},
         "encoding": {"x": {"field": "t", "type": "quantitative"}, "y": {"field": "s", "type": "quantitative"},
          "stroke": {"field": "l", "type": "nominal", "scale": {"domain": ["low", "mid", "high"], "range": ["#3333FF", "#000000", "#FF3333"]}, "legend": null}}},
        {"data": {"values": [{"a": "Log−rank"}]}, "mark": {"type": "text", "align": "left", "baseline": "middle", "fontSize": 14},
         "encoding": {"x": {"datum": 90}, "y": {"datum": 0.139}, "text": {"field": "a"}}},
        {"data": {"values": [{"a": "P"}]}, "mark": {"type": "text", "align": "left", "baseline": "middle", "fontSize": 14, "fontStyle": "italic"},
         "encoding": {"x": {"datum": 40}, "y": {"datum": 0.038}, "text": {"field": "a"}}},
        {"data": {"values": [{"a": "< .0001"}]}, "mark": {"type": "text", "align": "left", "baseline": "middle", "fontSize": 14},
         "encoding": {"x": {"datum": 660}, "y": {"datum": 0.038}, "text": {"field": "a"}}}
       ]},
      {"width": 184, "height": 182,
       "layer": [
        {"data": {"name": "km"}, "transform": [{"filter": "datum.p == 'B3'"}],
         "mark": {"type": "line", "strokeWidth": 1.8},
         "encoding": {
          "x": {"field": "t", "type": "quantitative", "scale": {"domain": [-400, 8400], "nice": false, "zero": false}, "axis": {"values": [0, 2000, 4000, 6000, 8000], "format": "d", "labelFontSize": 12, "labelPadding": 4, "title": null}},
          "y": {"field": "s", "type": "quantitative", "scale": {"domain": [-0.05, 1.05], "nice": false, "zero": false}, "axis": {"labels": false, "ticks": false, "title": null}},
          "color": {"field": "l", "type": "nominal", "scale": {"domain": ["low", "mid", "high"], "range": ["#3333FF", "#000000", "#FF3333"]}},
          "order": [{"field": "t"}, {"field": "s", "sort": "descending"}]
         }},
        {"data": {"name": "cz"}, "transform": [{"filter": "datum.p == 'B3'"}],
         "mark": {"type": "point", "shape": "M0,-1V1M-1,0H1", "filled": false, "size": 30, "strokeWidth": 1, "opacity": 1},
         "encoding": {"x": {"field": "t", "type": "quantitative"}, "y": {"field": "s", "type": "quantitative"},
          "stroke": {"field": "l", "type": "nominal", "scale": {"domain": ["low", "mid", "high"], "range": ["#3333FF", "#000000", "#FF3333"]}, "legend": null}}},
        {"data": {"values": [{"a": "Log−rank"}]}, "mark": {"type": "text", "align": "left", "baseline": "middle", "fontSize": 14},
         "encoding": {"x": {"datum": 90}, "y": {"datum": 0.139}, "text": {"field": "a"}}},
        {"data": {"values": [{"a": "P"}]}, "mark": {"type": "text", "align": "left", "baseline": "middle", "fontSize": 14, "fontStyle": "italic"},
         "encoding": {"x": {"datum": 40}, "y": {"datum": 0.038}, "text": {"field": "a"}}},
        {"data": {"values": [{"a": "< .0001"}]}, "mark": {"type": "text", "align": "left", "baseline": "middle", "fontSize": 14},
         "encoding": {"x": {"datum": 660}, "y": {"datum": 0.038}, "text": {"field": "a"}}}
       ]}
     ]
    }
   ]
  }
 ]
}
]
}
